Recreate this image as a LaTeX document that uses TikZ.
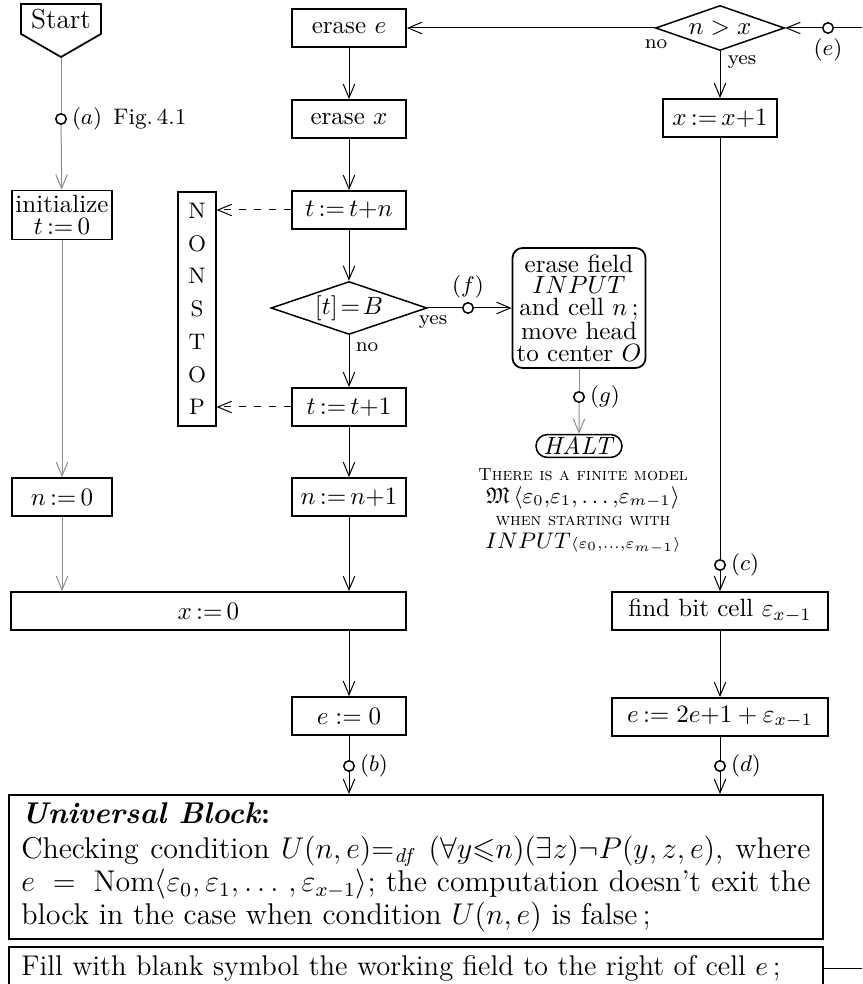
\documentclass[tikz,border=0pt]{standalone}
\usepackage{amssymb}
\usetikzlibrary{arrows.meta,positioning,shapes.geometric,shapes.misc,shapes.symbols}
\definecolor{lgray}{RGB}{140,140,140}
\tikzset{
  >={Straight Barb[length=5.5pt,width=4.6pt]},
  box/.style={draw,line width=0.7pt,inner sep=1pt,minimum width=45.6pt,minimum height=15.2pt},
  cond/.style={draw,diamond,line width=0.6pt,inner sep=0pt},
  dot/.style={circle,draw,fill=white,inner sep=0pt,minimum size=4.2pt,line width=0.6pt},
  flow/.style={line width=0.4pt},
  gflow/.style={line width=0.4pt,draw=lgray},
  tag/.style={font=\small,inner sep=1pt},
  yn/.style={font=\footnotesize,inner sep=1pt},
  wide/.style={draw,line width=0.7pt,text width=315.6pt,inner xsep=5pt,inner ysep=3pt,font=\fontsize{12}{11}\selectfont},
}
\begin{document}
\begin{tikzpicture}[x=0.4pt,y=0.4pt,yscale=-1]
\useasboundingbox (0,0) rectangle (862,984);
% Text Node
\node (start) at (61,19) [draw,line width=0.7pt,shape=signal,signal to=south,signal pointer angle=120,inner xsep=4pt,inner ysep=2pt,font=\fontsize{11}{12}\selectfont] {Start};
% Text Node
\node (ca) at (61,119) [dot] {};
\node (la) at (69,119) [tag,anchor=west] {$(a)$\enspace Fig.\,4.1};
% Text Node
\node (init) at (62,215) [box,minimum width=40pt,minimum height=19.6pt,align=center,font=\fontsize{10}{9}\selectfont] {initialize\\$t\,{:=}\,0$};
% Text Node
\node (n0) at (62,497) [box,minimum width=40pt] {$n\,{:=}\,0$};
% Text Node
\node (x0) at (208.5,611) [box,minimum width=158pt] {$x\,{:=}\,0$};
% Text Node
\node (erasee) at (349,28) [box] {erase $e$};
% Text Node
\node (erasex) at (349,119) [box] {erase $x$};
% Text Node
\node (ttn) at (349,210) [box] {$t\,{:=}\,t{+}n$};
% Text Node
\node (tB) at (349,308) [cond,aspect=2.95,minimum width=62.4pt,minimum height=21.2pt] {$[t]\!=\!B$};
\node (ytB) at (433,322) [yn] {yes};
\node (ntB) at (367,347) [yn] {no};
% Text Node
\node (tt1) at (349,407) [box] {$t\,{:=}\,t{+}1$};
% Text Node
\node (nn1) at (349,497) [box] {$n\,{:=}\,n{+}1$};
% Text Node
\node (e0) at (349,716) [box] {$e := 0$};
\node (cb) at (349,766) [dot] {};
\node (lb) at (357,766) [tag,anchor=west] {$(b)$};
% Text Node
\node (nonstop) at (197,309) [box,line width=0.5pt,minimum width=15.2pt,minimum height=93.6pt,align=center,font=\fontsize{9}{13.1}\selectfont] {N\\O\\N\\S\\T\\O\\P};
% Text Node
\node (cf) at (468,308) [dot] {};
\node (lf) at (468,287) [tag] {$(f)$};
% Text Node
\node (field) at (579,308) [box,rounded corners=4pt,minimum width=53.2pt,minimum height=48pt,align=center,font=\fontsize{10}{8.6}\selectfont] {erase field\\$INPUT$\\and cell $n$\,;\\move head\\to center $O$};
% Text Node
\node (cg) at (579,397) [dot] {};
\node (lg) at (587,397) [tag,anchor=west] {$(g)$};
% Text Node
\node (halt) at (579,446) [draw,line width=0.6pt,rounded rectangle,minimum width=36.4pt,minimum height=8.8pt,inner sep=1pt] {\textit{HALT}};
% Text Node
\node (model) at (583,511) [align=center,inner sep=0pt,font=\fontsize{9}{9}\selectfont] {{\scriptsize\textsc{There is a finite model}}\\$\mathfrak{M}\,\langle\varepsilon_0{,}\varepsilon_1{,}\ldots{,}\varepsilon_{m-1}\rangle$\\{\scriptsize\textsc{when starting with}}\\$INPUT{\scriptstyle\langle\varepsilon_0,\ldots,\varepsilon_{m-1}\rangle}$};
% Text Node
\node (nx) at (720,28) [cond,aspect=2.87,minimum width=51.6pt,minimum height=18pt] {$n>x$};
\node (nnx) at (656,44) [yn] {no};
\node (ynx) at (742,62) [yn] {yes};
\node (ce) at (828,28) [dot] {};
\node (le) at (828,50) [tag] {$(e)$};
\coordinate (rin) at (862,28);
% Text Node
\node (xx1) at (720,118) [box] {$x\,{:=}\,x{+}1$};
% Text Node
\node (cc) at (720,565) [dot] {};
\node (lc) at (728,565) [tag,anchor=west] {$(c)$};
% Text Node
\node (findbit) at (720,611) [box,minimum width=86.4pt] {find bit cell $\varepsilon_{x-1}$};
% Text Node
\node (e2) at (720,717) [box,minimum width=86.4pt] {$e\,{:=}\;2e{+}1+\varepsilon_{x-1}$};
\node (cd) at (720,766) [dot] {};
\node (ld) at (728,766) [tag,anchor=west] {$(d)$};
% Text Node
\node (univ) at (8,794) [wide,anchor=north west,align=justify] {{\bfseries\itshape Universal Block}\textbf{:}\par\vspace{3pt}
Checking condition $U(n,e){=}_{\mathit{df}}\;(\forall y{\leqslant}n)(\exists z)\neg P(y,z,e)$, where\linebreak $e\;=\;\mathrm{Nom}\langle\varepsilon_0,\varepsilon_1,\ldots\,,\varepsilon_{x-1}\rangle$; the computation doesn't exit the\linebreak block in the case when condition $U(n,e)$ is false\,;};
% Text Node
\node (fill) [wide,below=2.5pt of univ.south west,anchor=north west,align=left,inner ysep=3.5pt,font=\fontsize{11.4}{11}\selectfont] {Fill with blank symbol the working field to the right of cell $e$\,;};
\coordinate (rout) at (862,0);
% Connection
\draw [gflow] (start.south) -- (ca);
\draw [gflow,->] (ca) -- (init);
\draw [gflow,->] (init) -- (n0);
\draw [gflow,->] (n0) -- (n0 |- x0.north);
% Connection
\draw [flow,->] (erasee) -- (erasex);
\draw [flow,->] (erasex) -- (ttn);
\draw [flow,->] (ttn) -- (tB);
\draw [flow,->] (tB) -- (tt1);
\draw [flow,->] (tt1) -- (nn1);
\draw [flow,->] (nn1) -- (nn1 |- x0.north);
\draw [flow,->] (e0 |- x0.south) -- (e0);
\draw [flow] (e0) -- (cb);
\draw [flow,->] (cb) -- (cb |- univ.north);
% Connection
\draw [flow,dashed,->] (ttn) -- (ttn -| nonstop.east);
\draw [flow,dashed,->] (tt1) -- (tt1 -| nonstop.east);
% Connection
\draw [flow] (tB.east) -- (cf);
\draw [flow,->] (cf) -- (field);
\draw [gflow] (field) -- (cg);
\draw [gflow,->] (cg) -- (halt);
% Connection
\draw [flow] (rin) -- (ce);
\draw [flow,->] (ce) -- (nx.east);
\draw [flow,->] (nx.west) -- (erasee);
\draw [flow,->] (nx) -- (xx1);
\draw [flow] (xx1) -- (cc);
\draw [flow,->] (cc) -- (findbit);
\draw [flow,->] (findbit) -- (e2);
\draw [flow] (e2) -- (cd);
\draw [flow,->] (cd) -- (cd |- univ.north);
% Connection
\draw [flow] (fill.east) -- (fill.east -| rout);
\end{tikzpicture}
\end{document}
